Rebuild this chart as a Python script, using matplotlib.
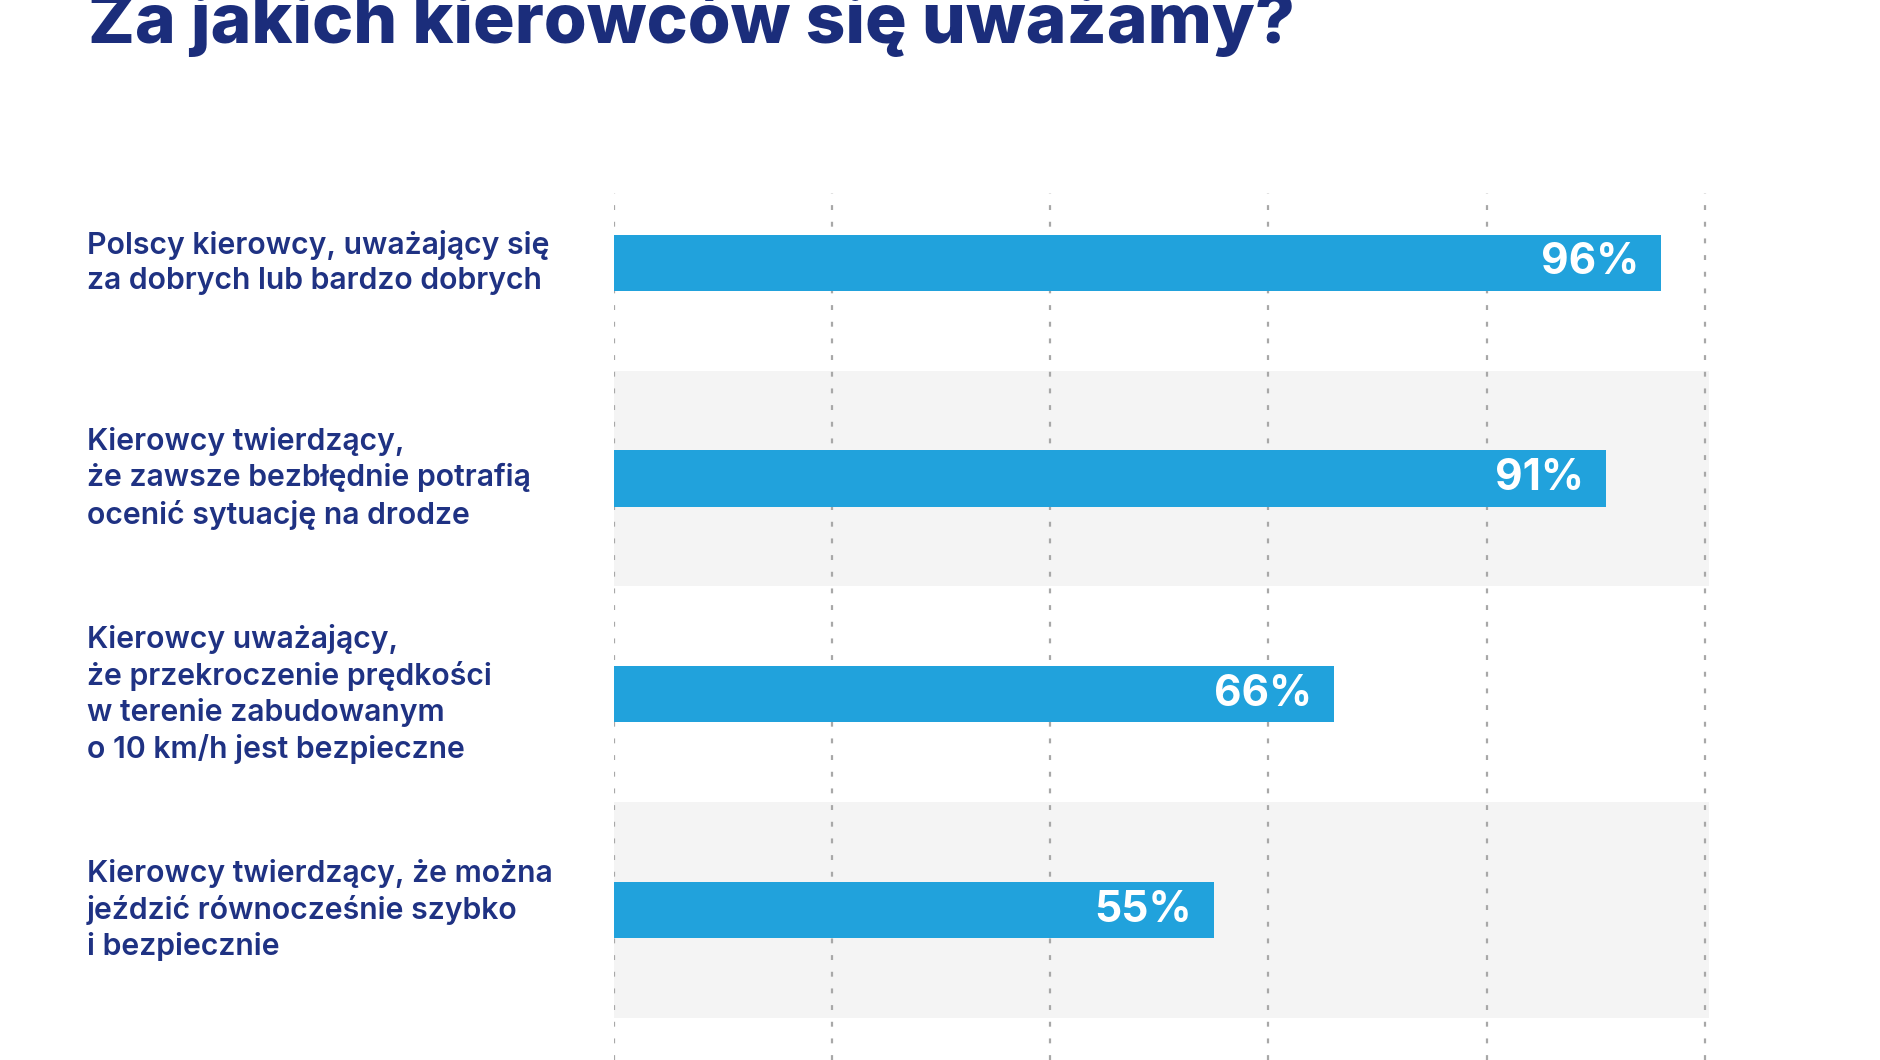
import matplotlib
matplotlib.use("Agg")
import matplotlib.pyplot as plt
import matplotlib.transforms as mtransforms

# ---- data ----
title = "Za jakich kierowców się uważamy?"
categories = [
    "Polscy kierowcy, uważający się\nza dobrych lub bardzo dobrych",
    "Kierowcy twierdzący,\nże zawsze bezbłędnie potrafią\nocenić sytuację na drodze",
    "Kierowcy uważający,\nże przekroczenie prędkości\nw terenie zabudowanym\no 10 km/h jest bezpieczne",
    "Kierowcy twierdzący, że można\njeździć równocześnie szybko\ni bezpiecznie",
]
values = [96, 91, 66, 55]
value_labels = ["96%", "91%", "66%", "55%"]
grid_ticks = [0, 20, 40, 60, 80, 100]

# ---- style ----
W, H = 1880, 1060
DPI = 100
NAVY_T = "#1b2d7b"
NAVY = "#1f3283"
BAR = "#21a2dc"
BAND = "#f4f4f4"
GRID = "#a8a8a8"
FONT = "Inter"

fig = plt.figure(figsize=(W / DPI, H / DPI), dpi=DPI)
fig.patch.set_facecolor("white")

ax_left, ax_right = 614, 1709
ax_top = 193
ax = fig.add_axes([ax_left / W, 0, (ax_right - ax_left) / W, 1 - ax_top / H])
ax.set_facecolor("white")
n = len(values)
ypos = list(range(n))
ax.set_xlim(0, 100.4)
ax.set_ylim(3.695, -0.323)
for s in ax.spines.values():
    s.set_visible(False)
ax.set_xticks([])
ax.set_yticks([])

# alternating bands
for i in ypos:
    if i % 2 == 1:
        ax.axhspan(i - 0.5, i + 0.5, color=BAND, zorder=0, lw=0)

# dotted gridlines
for t in grid_ticks:
    ax.axvline(t, color=GRID, lw=1.6, ls=(0, (2.2, 5.3)), zorder=1)

ax.barh(ypos, values, height=0.26, color=BAR, zorder=2, lw=0)

fig.canvas.draw()
r = fig.canvas.get_renderer()

def measure(text, size, weight, ls=1.2):
    t = fig.text(0, 0, text, fontsize=size, fontweight=weight, family=FONT, linespacing=ls)
    bb = t.get_window_extent(r)
    t.remove()
    return bb

def fit_size(text, target_px, weight="bold", base=20):
    return base * target_px / measure(text, base, weight).width

# value labels
vsize = fit_size("96%", 98, weight="bold")
for i, (v, lab) in enumerate(zip(values, value_labels)):
    ax.annotate(lab, xy=(v, i), xytext=(-22 * 72 / DPI, 0), textcoords="offset points",
                ha="right", va="center", color="white", fontsize=vsize,
                fontweight="bold", family=FONT, zorder=3)

# category labels
lw_ = "semibold"
lsize = fit_size("Polscy kierowcy, uważający się", 464, weight=lw_)
h1 = measure("Ag", lsize, lw_).height
h2 = measure("Ag\nAg", lsize, lw_).height
pitch = h2 - h1
lspace = 1.2 * 35.0 / pitch
trans = mtransforms.blended_transform_factory(fig.transFigure, ax.transData)
for i, lab in enumerate(categories):
    ax.text(87 / W, i, lab, transform=trans, ha="left", va="center",
            multialignment="left", color=NAVY, fontsize=lsize,
            fontweight=lw_, family=FONT, linespacing=lspace, clip_on=False)

# title (cut at top as in the reference)
tsize = fit_size(title, 1208, weight="heavy")
fig.text(88 / W, 1 - 43 / H, title, ha="left", va="baseline", color=NAVY_T,
         fontsize=tsize, fontweight="heavy", family=FONT)

fig.savefig("out.png", dpi=DPI, facecolor="white")
